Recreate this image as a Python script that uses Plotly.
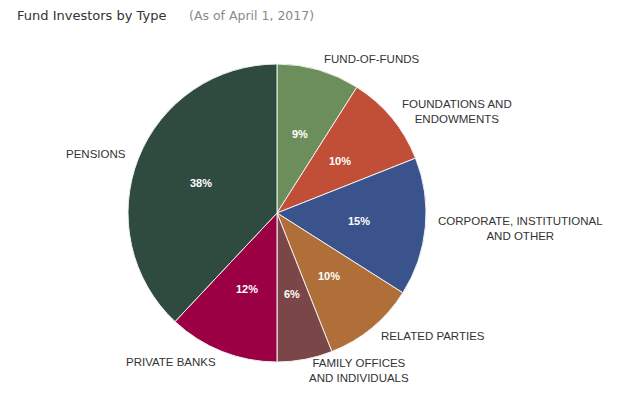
import math
import plotly.graph_objects as go

categories = ["FUND-OF-FUNDS", "FOUNDATIONS AND<br>ENDOWMENTS", "CORPORATE, INSTITUTIONAL<br>AND OTHER",
              "RELATED PARTIES", "FAMILY OFFICES<br>AND INDIVIDUALS", "PRIVATE BANKS", "PENSIONS"]
values = [9, 10, 15, 10, 6, 12, 38]
colors = ["#6b8e5a", "#c14e36", "#3a538d", "#b06f38", "#7a4648", "#9b0045", "#2f4a3f"]

W, H = 640, 419
OFF = 8  # page body margin
cx, cy, R = 277 - OFF, 213 - OFF, 149

fig = go.Figure(go.Pie(
    labels=categories, values=values, sort=False, direction="clockwise", rotation=0,
    marker=dict(colors=colors, line=dict(color="#f0f0f0", width=1)),
    textinfo="none", hoverinfo="label+percent", showlegend=False,
    domain=dict(x=[(cx - R) / W, (cx + R) / W], y=[1 - (cy + R) / H, 1 - (cy - R) / H]),
))

annotations = []
total = sum(values)
cum = 0
for lab, v in zip(categories, values):
    mid = (cum + v / 2) / total * 2 * math.pi
    cum += v
    s, c = math.sin(mid), math.cos(mid)
    # outside label
    px, py = cx + 160 * s, cy - 160 * c
    annotations.append(dict(
        x=px / W, y=1 - py / H, xref="paper", yref="paper", text=lab, showarrow=False,
        xanchor="left" if s >= 0 else "right", yanchor="middle",
        align="center", font=dict(family="Liberation Sans, Arial", size=11.5, color="#333333"),
    ))
    # inside percent
    ix, iy = cx + 82 * s, cy - 82 * c
    annotations.append(dict(
        x=ix / W, y=1 - iy / H, xref="paper", yref="paper", text="<b>%d%%</b>" % round(v / total * 100),
        showarrow=False, xanchor="center", yanchor="middle",
        font=dict(family="Liberation Sans, Arial", size=11, color="white"),
    ))

annotations.append(dict(
    x=(15 - OFF) / W, y=1 - (15 - OFF) / H, xref="paper", yref="paper", showarrow=False,
    xanchor="left", yanchor="middle", text="Fund Investors by Type",
    font=dict(family="DejaVu Sans, Verdana", size=13, color="#333333"),
))
annotations.append(dict(
    x=(187 - OFF) / W, y=1 - (15 - OFF) / H, xref="paper", yref="paper", showarrow=False,
    xanchor="left", yanchor="middle", text="(As of April 1, 2017)",
    font=dict(family="DejaVu Sans, Verdana", size=12.5, color="#8a8a8a"),
))

fig.update_layout(width=W, height=H, margin=dict(l=0, r=0, t=0, b=0),
                  paper_bgcolor="white", plot_bgcolor="white", annotations=annotations)
fig.write_html("out.html")
